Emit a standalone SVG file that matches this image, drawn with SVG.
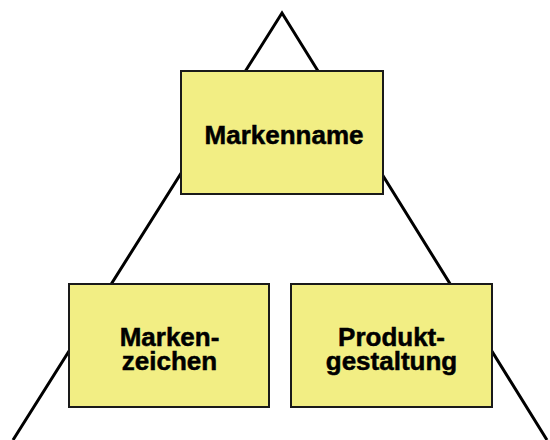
<svg xmlns="http://www.w3.org/2000/svg" width="550" height="440" viewBox="0 0 550 440">
<style>
.box{fill:#F2EE84;stroke:#1a1a1a;stroke-width:2}
.lbl{font-family:"Liberation Sans",Arial,sans-serif;font-weight:bold;font-size:26px;fill:#000;stroke:#000;stroke-width:0.5;text-anchor:middle}
.edge{stroke:#000;stroke-width:3;fill:none}
</style>
<rect width="550" height="440" fill="#fff"/>
<g id="connectors">
<polyline class="edge" points="13,440 282,13 547,440"/>
</g>
<g id="markenname">
<rect class="box" x="181" y="71" width="202" height="123"/>
<text class="lbl" x="284" y="144">Markenname</text>
</g>
<g id="markenzeichen">
<rect class="box" x="69" y="284" width="200" height="123"/>
<text class="lbl" x="169.5" y="346">Marken-</text>
<text class="lbl" x="169.5" y="370">zeichen</text>
</g>
<g id="produktgestaltung">
<rect class="box" x="291" y="284" width="201" height="123"/>
<text class="lbl" x="391.5" y="346">Produkt-</text>
<text class="lbl" x="391.5" y="370">gestaltung</text>
</g>
</svg>
